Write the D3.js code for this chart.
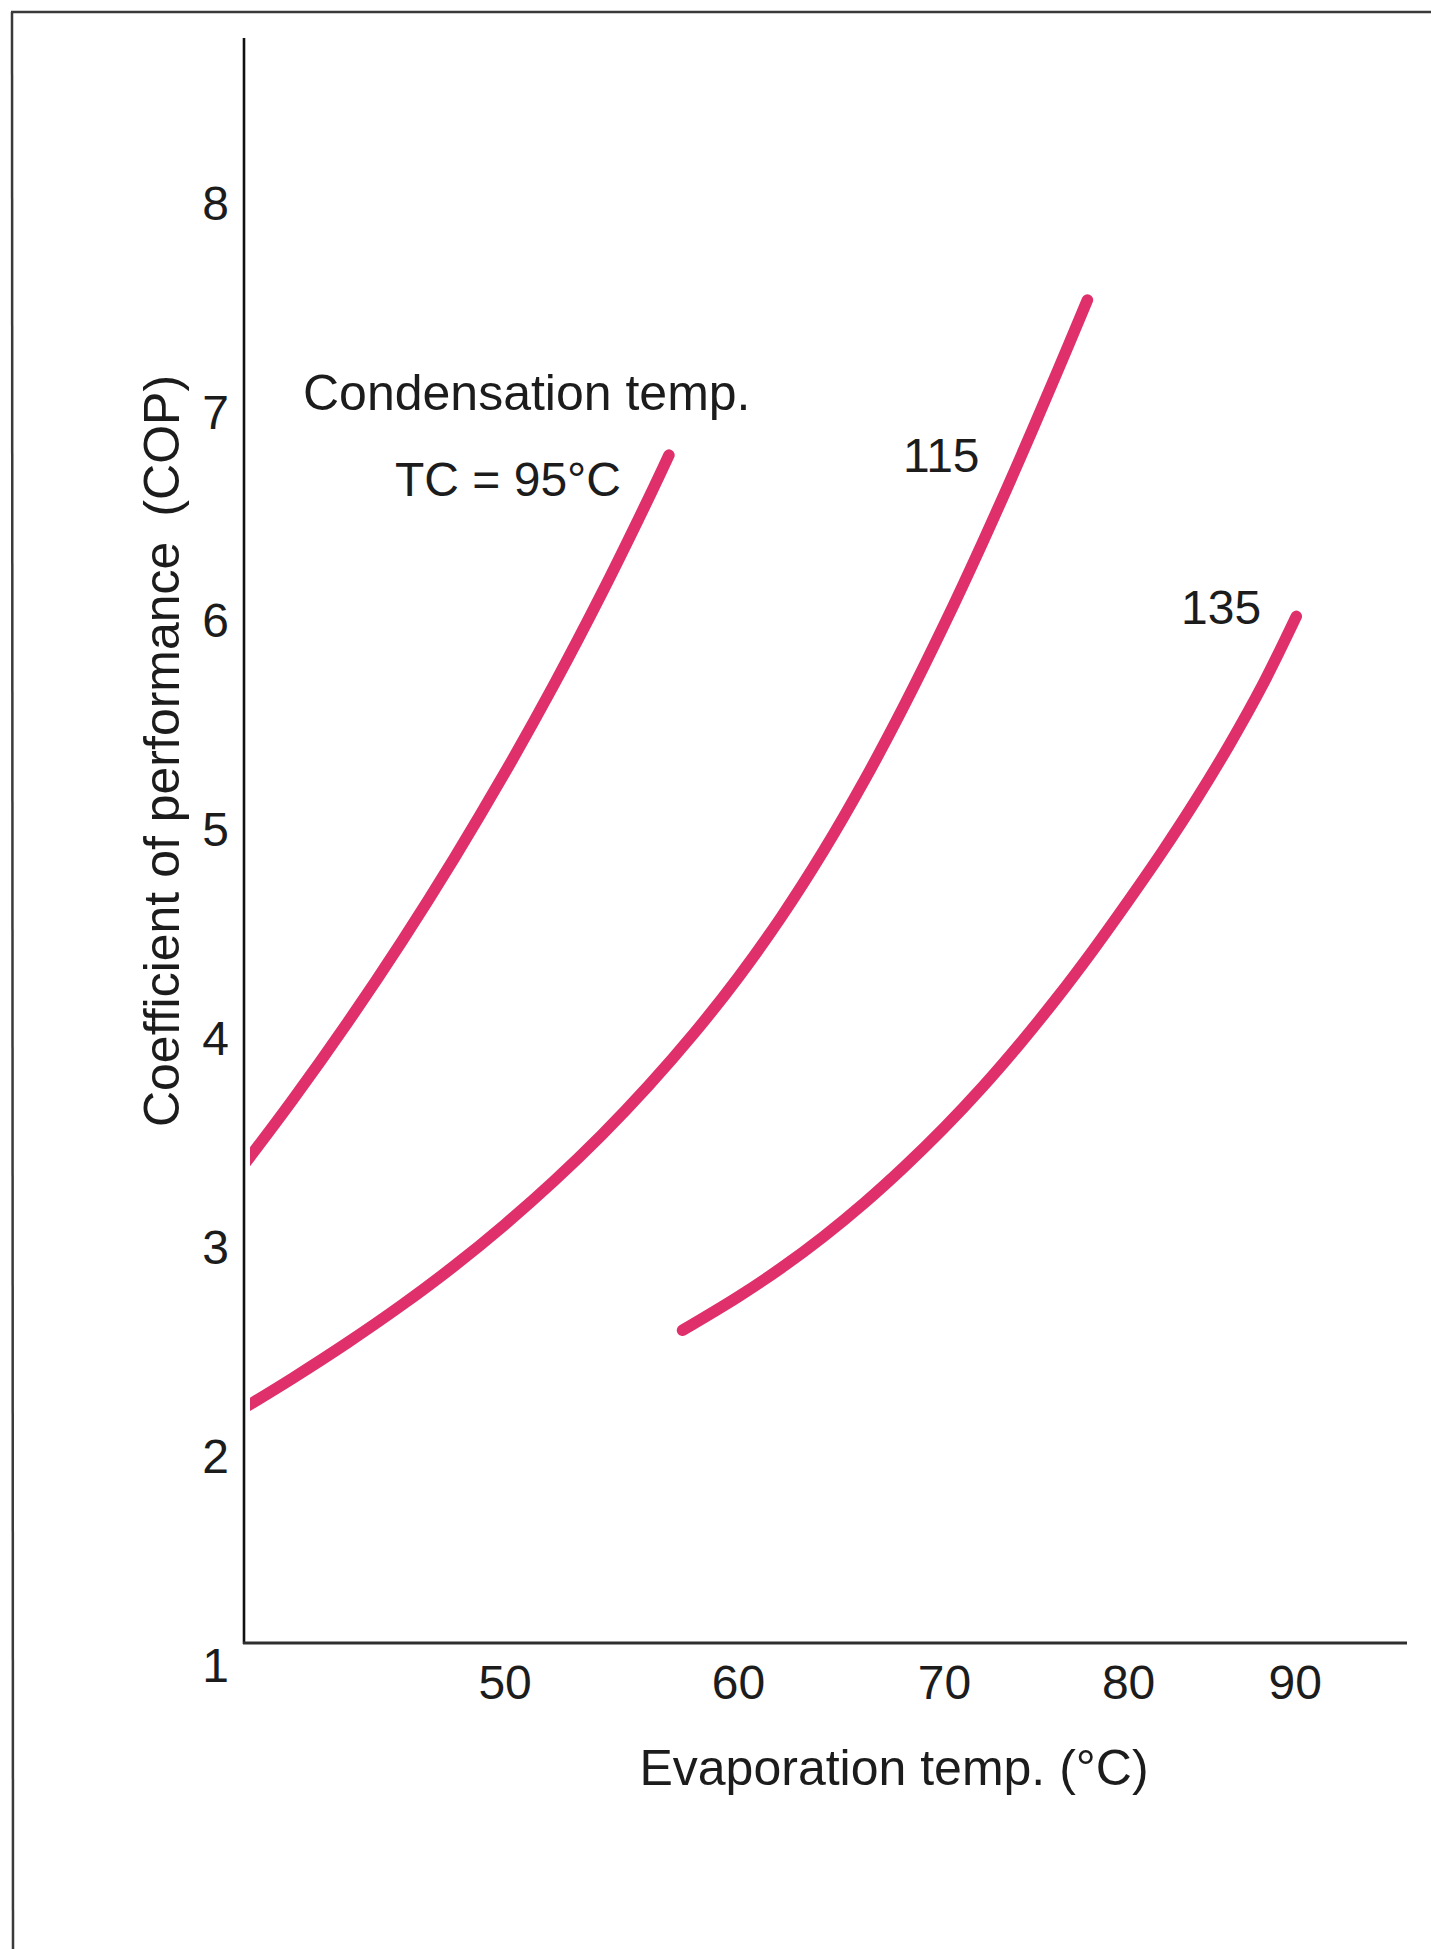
<!DOCTYPE html>
<html>
<head>
<meta charset="utf-8">
<script src="https://cdn.jsdelivr.net/npm/d3@7"></script>
<style>
  html, body { margin: 0; padding: 0; background: #fff; }
  svg { display: block; }
  text { font-family: "Liberation Sans", Arial, Helvetica, sans-serif; fill: #1c1c1c; }
</style>
</head>
<body>
<svg id="chart" width="1431" height="1949"></svg>
<script>
// COP against evaporation temperature, one curve per condensation temperature
const tc95Temp  = [40, 42, 44, 46, 48, 50, 52, 54, 56, 56.9];
const tc95Cop   = [3.335, 3.700, 4.074, 4.459, 4.856, 5.265, 5.688, 6.126, 6.579, 6.788];

const tc115Temp = [40, 42, 44, 46, 48, 50, 52, 54, 56, 58, 60, 62, 64, 66, 68, 70, 72, 74, 76, 77.7];
const tc115Cop  = [2.200, 2.368, 2.540, 2.718, 2.905, 3.103, 3.312, 3.533, 3.768, 4.018,
                   4.286, 4.576, 4.891, 5.231, 5.593, 5.973, 6.367, 6.771, 7.181, 7.531];

const tc135Temp = [57.5, 60, 62, 64, 66, 68, 70, 72, 74, 76, 78, 80, 82, 84, 86, 88, 90.1];
const tc135Cop  = [2.598, 2.758, 2.896, 3.046, 3.208, 3.382, 3.566, 3.762, 3.970, 4.188,
                   4.416, 4.652, 4.892, 5.142, 5.406, 5.688, 6.016];

const xTicks = [50, 60, 70, 80, 90];
const yTicks = [1, 2, 3, 4, 5, 6, 7, 8];
const curveLabels = ["TC = 95°C", "115", "135"];
const headerLabel = "Condensation temp.";
const xTitle = "Evaporation temp. (°C)";
const yTitle = "Coefficient of performance\u2002(COP)";

// ---- layout ----
const W = 1431, H = 1949;
const axisX = 244, axisTop = 38, axisBottom = 1643, axisRight = 1407;
const curveColor = "#e0306b";

const svg = d3.select("#chart");

// The evaporation axis is graduated logarithmically in (t + 20)
const tOffset = 20;
const xLog = d3.scaleLog()
  .domain([50 + tOffset, 90 + tOffset])
  .range([504.6, 1294.7]);
const x = t => xLog(t + tOffset);

const y = d3.scaleLinear()
  .domain([1, 8])
  .range([1664, 202]);

// page frame
svg.append("line").attr("x1", 11).attr("y1", 12).attr("x2", W).attr("y2", 12)
  .attr("stroke", "#3a3a3a").attr("stroke-width", 2.5);
svg.append("line").attr("x1", 12).attr("y1", 12).attr("x2", 13).attr("y2", H)
  .attr("stroke", "#3a3a3a").attr("stroke-width", 2.5);

// axis lines
svg.append("line").attr("x1", axisX).attr("y1", axisTop).attr("x2", axisX).attr("y2", axisBottom + 1)
  .attr("stroke", "#111").attr("stroke-width", 2.6);
svg.append("line").attr("x1", axisX - 1).attr("y1", axisBottom).attr("x2", axisRight).attr("y2", axisBottom)
  .attr("stroke", "#2e2e2e").attr("stroke-width", 3);

// tick labels
const xAxis = d3.axisBottom(xLog)
  .tickValues(xTicks.map(t => t + tOffset))
  .tickSize(0).tickPadding(22)
  .tickFormat(v => d3.format("d")(v - tOffset));
svg.append("g").attr("transform", `translate(0,${axisBottom})`).call(xAxis)
  .call(g => g.select(".domain").remove())
  .selectAll("text").attr("font-size", 48).attr("fill", "#1c1c1c")
  .style("font-family", "'Liberation Sans', Arial, sans-serif");

const yAxis = d3.axisLeft(y).tickValues(yTicks).tickSize(0).tickPadding(15).tickFormat(d3.format("d"));
svg.append("g").attr("transform", `translate(${axisX},0)`).call(yAxis)
  .call(g => g.select(".domain").remove())
  .selectAll("text").attr("font-size", 48).attr("dy", "0.36em").attr("fill", "#1c1c1c")
  .style("font-family", "'Liberation Sans', Arial, sans-serif");

// axis titles
svg.append("text").attr("x", 894).attr("y", 1785).attr("text-anchor", "middle")
  .attr("font-size", 50).text(xTitle);
svg.append("text").attr("transform", "translate(179,751) rotate(-90)")
  .attr("text-anchor", "middle").attr("font-size", 50).text(yTitle);

// curves
const series = [
  { temp: tc95Temp,  cop: tc95Cop },
  { temp: tc115Temp, cop: tc115Cop },
  { temp: tc135Temp, cop: tc135Cop }
];

svg.append("clipPath").attr("id", "plotClip")
  .append("rect").attr("x", axisX + 6).attr("y", 0).attr("width", W).attr("height", axisBottom);

const line = d3.line()
  .x(d => x(d[0]))
  .y(d => y(d[1]))
  .curve(d3.curveCatmullRom.alpha(0.5));

svg.append("g").attr("clip-path", "url(#plotClip)")
  .selectAll("path").data(series).join("path")
  .attr("d", s => line(s.temp.map((t, i) => [t, s.cop[i]])))
  .attr("fill", "none")
  .attr("stroke", curveColor)
  .attr("stroke-width", 11.5)
  .attr("stroke-linecap", "round")
  .attr("stroke-linejoin", "round");

// curve annotations
svg.append("text").attr("x", 303).attr("y", 410).attr("font-size", 50).text(headerLabel);
const labelPos = [[395, 496, 48], [903, 472, 48], [1181, 624, 48]];
curveLabels.forEach((t, i) => {
  svg.append("text").attr("x", labelPos[i][0]).attr("y", labelPos[i][1])
    .attr("font-size", labelPos[i][2]).text(t);
});
</script>
</body>
</html>
